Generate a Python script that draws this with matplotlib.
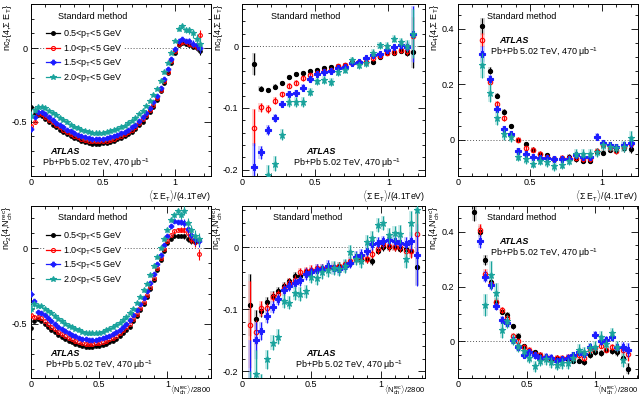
import numpy as np
import matplotlib
matplotlib.use('Agg')
import matplotlib.pyplot as plt
from matplotlib.ticker import MultipleLocator, FuncFormatter
from matplotlib.lines import Line2D
from matplotlib.patches import Rectangle

plt.rcParams['font.family'] = ['Liberation Sans', 'DejaVu Sans']
plt.rcParams['mathtext.fontset'] = 'custom'
plt.rcParams['mathtext.rm'] = 'Liberation Sans'
plt.rcParams['mathtext.it'] = 'Liberation Sans:italic'
plt.rcParams['mathtext.bf'] = 'Liberation Sans:bold'

# ---------------- data ----------------
series_labels = ['0.5<p$_\\mathrm{T}$<5 GeV', '1.0<p$_\\mathrm{T}$<5 GeV',
                 '1.5<p$_\\mathrm{T}$<5 GeV', '2.0<p$_\\mathrm{T}$<5 GeV']

# Panel 1: nc2{4, Sum ET} vs <Sum ET>/4.1TeV
p1_x = [0.000, 0.025, 0.050, 0.075, 0.100, 0.125, 0.150, 0.175, 0.200, 0.225, 0.250, 0.275,
        0.300, 0.325, 0.350, 0.375, 0.400, 0.425, 0.450, 0.475, 0.500, 0.525, 0.550, 0.575,
        0.600, 0.625, 0.650, 0.675, 0.700, 0.725, 0.750, 0.775, 0.800, 0.825, 0.850, 0.875,
        0.900, 0.925, 0.950, 0.975, 1.000, 1.025, 1.050, 1.075, 1.100, 1.125, 1.150, 1.175]
p1_black = [-0.40, -0.45, -0.455, -0.46, -0.48, -0.50, -0.52, -0.54, -0.555, -0.57, -0.585, -0.60,
            -0.61, -0.62, -0.63, -0.64, -0.645, -0.65, -0.65, -0.65, -0.648, -0.645, -0.64, -0.63,
            -0.62, -0.61, -0.60, -0.585, -0.57, -0.55, -0.525, -0.50, -0.47, -0.435, -0.40, -0.35,
            -0.295, -0.235, -0.17, -0.10, -0.03, 0.02, 0.035, 0.03, 0.02, 0.01, 0.00, -0.02]
p1_red = [-0.53, -0.50, -0.445, -0.45, -0.47, -0.49, -0.505, -0.525, -0.54, -0.555, -0.57, -0.585,
          -0.595, -0.605, -0.615, -0.625, -0.63, -0.635, -0.635, -0.635, -0.633, -0.63, -0.625, -0.615,
          -0.605, -0.595, -0.585, -0.57, -0.555, -0.535, -0.51, -0.485, -0.455, -0.42, -0.385, -0.34,
          -0.285, -0.225, -0.16, -0.09, -0.02, 0.03, 0.04, 0.04, 0.03, 0.02, 0.01, 0.09]
p1_blue = [-0.55, -0.47, -0.435, -0.435, -0.45, -0.47, -0.49, -0.51, -0.525, -0.54, -0.555, -0.565,
           -0.58, -0.59, -0.60, -0.605, -0.61, -0.615, -0.618, -0.618, -0.615, -0.61, -0.605, -0.60,
           -0.59, -0.58, -0.57, -0.555, -0.54, -0.52, -0.495, -0.47, -0.44, -0.405, -0.37, -0.325,
           -0.27, -0.21, -0.145, -0.075, -0.005, 0.05, 0.06, 0.05, 0.05, 0.03, 0.02, 0.00]
p1_teal = [-0.46, -0.42, -0.40, -0.40, -0.41, -0.425, -0.44, -0.455, -0.475, -0.49, -0.505, -0.52,
           -0.535, -0.545, -0.555, -0.565, -0.57, -0.575, -0.58, -0.58, -0.578, -0.573, -0.567, -0.56,
           -0.55, -0.54, -0.527, -0.512, -0.495, -0.475, -0.45, -0.425, -0.395, -0.36, -0.32, -0.275,
           -0.225, -0.165, -0.10, -0.03, 0.05, 0.13, 0.15, 0.12, 0.12, 0.10, 0.06, 0.03]
p1_err = [[0.01, 0.008, 0.006] + [0.004] * 37 + [0.005, 0.006, 0.008, 0.01, 0.012, 0.015, 0.02, 0.025],
          [0.015, 0.012, 0.008] + [0.005] * 37 + [0.006, 0.008, 0.01, 0.012, 0.015, 0.02, 0.025, 0.035],
          [0.02, 0.015, 0.01] + [0.006] * 37 + [0.008, 0.01, 0.012, 0.015, 0.02, 0.025, 0.03, 0.035],
          [0.03, 0.02, 0.012] + [0.008] * 37 + [0.01, 0.012, 0.015, 0.02, 0.025, 0.03, 0.035, 0.04]]

# Panel 2: nc3{4, Sum ET}
p2_x = [0.08, 0.127, 0.177, 0.227, 0.273, 0.32, 0.37, 0.418, 0.467, 0.514, 0.56, 0.61,
        0.657, 0.703, 0.753, 0.80, 0.846, 0.895, 0.94, 0.99, 1.04, 1.085, 1.13, 1.17]
p2_black = [-0.029, -0.069, -0.071, -0.066, -0.059, -0.050, -0.045, -0.044, -0.041, -0.039, -0.036, -0.034,
            -0.033, -0.031, -0.026, -0.025, -0.026, -0.025, -0.017, -0.011, -0.011, -0.008, -0.011, -0.010]
p2_red = [-0.132, -0.099, -0.102, -0.088, -0.078, -0.064, -0.059, -0.052, -0.047, -0.043, -0.041, -0.038,
          -0.033, -0.031, -0.027, -0.026, -0.026, -0.020, -0.016, -0.011, -0.010, -0.007, -0.008, 0.017]
p2_blue = [-0.196, -0.172, -0.135, -0.116, -0.094, -0.077, -0.076, -0.067, -0.053, -0.045, -0.042, -0.041,
           -0.036, -0.034, -0.028, -0.026, -0.020, -0.015, -0.013, -0.007, -0.002, 0.001, -0.001, 0.020]
p2_teal = [-0.26, -0.24, -0.208, -0.190, -0.143, -0.091, -0.091, -0.091, -0.074, -0.057, -0.055, -0.058,
           -0.042, -0.038, -0.023, -0.031, -0.028, -0.011, 0.001, 0.000, 0.012, 0.006, 0.000, 0.020]
p2_err = [[0.018, 0.004, 0.004, 0.004, 0.003, 0.003, 0.003, 0.003, 0.003, 0.003, 0.003, 0.003,
           0.003, 0.003, 0.003, 0.003, 0.003, 0.003, 0.003, 0.003, 0.003, 0.003, 0.005, 0.025],
          [0.03, 0.007, 0.006, 0.005, 0.004, 0.004, 0.004, 0.004, 0.004, 0.004, 0.004, 0.004,
           0.004, 0.004, 0.004, 0.004, 0.004, 0.004, 0.004, 0.004, 0.004, 0.004, 0.006, 0.03],
          [0.04, 0.01, 0.008, 0.006, 0.005, 0.005, 0.005, 0.005, 0.005, 0.004, 0.004, 0.004,
           0.004, 0.004, 0.004, 0.004, 0.004, 0.004, 0.004, 0.004, 0.004, 0.005, 0.007, 0.045],
          [0.03, 0.03, 0.015, 0.012, 0.009, 0.008, 0.008, 0.008, 0.007, 0.006, 0.006, 0.006,
           0.006, 0.006, 0.006, 0.006, 0.006, 0.006, 0.006, 0.006, 0.006, 0.007, 0.01, 0.04]]

# Panel 3: nc4{4, Sum ET}
p3_x = [0.17, 0.22, 0.27, 0.32, 0.37, 0.42, 0.47, 0.52, 0.57, 0.62, 0.67, 0.72,
        0.77, 0.82, 0.87, 0.92, 0.965, 1.01, 1.055, 1.10, 1.15, 1.20]
p3_black = [0.41, 0.25, 0.16, 0.10, 0.05, 0.0, -0.015, -0.035, -0.05, -0.055, -0.07, -0.065,
            -0.06, -0.07, -0.075, -0.075, -0.045, -0.046, -0.035, -0.036, -0.03, -0.033]
p3_red = [0.36, 0.21, 0.13, 0.078, 0.018, 0.0, -0.03, -0.035, -0.05, -0.06, -0.07, -0.065,
          -0.065, -0.065, -0.07, -0.07, -0.04, -0.02, -0.03, -0.039, -0.025, -0.015]
p3_blue = [0.31, 0.22, 0.11, 0.04, 0.02, -0.04, -0.05, -0.06, -0.065, -0.065, -0.07, -0.07,
           -0.07, -0.055, -0.06, -0.06, 0.012, -0.012, -0.02, -0.025, -0.02, -0.012]
p3_teal = [0.27, 0.17, 0.08, 0.02, 0.01, -0.06, -0.07, -0.085, -0.075, -0.08, -0.095, -0.09,
           -0.075, -0.05, -0.05, -0.05, -0.045, -0.02, -0.025, -0.03, -0.024, 0.006]
p3_err = [[0.03, 0.012, 0.01, 0.01, 0.008, 0.008, 0.008, 0.008, 0.008, 0.008, 0.008, 0.008,
           0.008, 0.008, 0.008, 0.008, 0.01, 0.01, 0.01, 0.01, 0.012, 0.015],
          [0.025, 0.012, 0.01, 0.01, 0.01, 0.009, 0.009, 0.009, 0.009, 0.009, 0.009, 0.009,
           0.009, 0.009, 0.009, 0.009, 0.01, 0.01, 0.01, 0.01, 0.012, 0.015],
          [0.03, 0.015, 0.012, 0.012, 0.012, 0.011, 0.011, 0.011, 0.011, 0.011, 0.011, 0.011,
           0.011, 0.011, 0.011, 0.011, 0.012, 0.012, 0.012, 0.012, 0.014, 0.018],
          [0.045, 0.035, 0.025, 0.02, 0.018, 0.016, 0.016, 0.016, 0.016, 0.016, 0.016, 0.016,
           0.016, 0.016, 0.016, 0.016, 0.016, 0.016, 0.016, 0.016, 0.02, 0.025]]

# Panel 4: nc2{4, Nch} vs <Nch_rec>/2800
p4_x = [0.000, 0.025, 0.050, 0.075, 0.100, 0.125, 0.150, 0.175, 0.200, 0.225, 0.250, 0.275,
        0.300, 0.325, 0.350, 0.375, 0.400, 0.425, 0.450, 0.475, 0.500, 0.525, 0.550, 0.575,
        0.600, 0.625, 0.650, 0.675, 0.700, 0.725, 0.750, 0.775, 0.800, 0.825, 0.850, 0.875,
        0.900, 0.925, 0.950, 0.975, 1.000, 1.025, 1.050, 1.075, 1.100, 1.125, 1.150, 1.175,
        1.200, 1.235]
p4_black = [-0.53, -0.48, -0.47, -0.48, -0.50, -0.52, -0.54, -0.555, -0.575, -0.59, -0.605, -0.615,
            -0.625, -0.635, -0.645, -0.65, -0.655, -0.655, -0.655, -0.652, -0.65, -0.645, -0.635, -0.625,
            -0.615, -0.60, -0.585, -0.565, -0.545, -0.52, -0.485, -0.45, -0.41, -0.37, -0.325, -0.27,
            -0.21, -0.145, -0.08, -0.02, 0.035, 0.065, 0.08, 0.085, 0.085, 0.08, 0.065, 0.05,
            0.045, 0.055]
p4_red = [-0.44, -0.455, -0.455, -0.465, -0.48, -0.50, -0.52, -0.535, -0.555, -0.57, -0.585, -0.595,
          -0.605, -0.615, -0.625, -0.63, -0.635, -0.635, -0.635, -0.632, -0.63, -0.625, -0.615, -0.605,
          -0.595, -0.58, -0.565, -0.545, -0.525, -0.50, -0.47, -0.435, -0.395, -0.355, -0.31, -0.255,
          -0.195, -0.13, -0.065, -0.005, 0.05, 0.09, 0.115, 0.125, 0.125, 0.12, 0.10, 0.06,
          0.04, -0.04]
p4_blue = [-0.30, -0.35, -0.42, -0.43, -0.445, -0.465, -0.48, -0.50, -0.52, -0.535, -0.55, -0.565,
           -0.575, -0.585, -0.595, -0.60, -0.605, -0.61, -0.61, -0.607, -0.603, -0.597, -0.59, -0.58,
           -0.568, -0.555, -0.54, -0.52, -0.50, -0.475, -0.445, -0.41, -0.37, -0.33, -0.285, -0.23,
           -0.17, -0.105, -0.045, 0.02, 0.08, 0.15, 0.18, 0.175, 0.175, 0.17, 0.13, 0.09,
           0.06, 0.05]
p4_teal = [-0.40, -0.37, -0.38, -0.385, -0.40, -0.415, -0.43, -0.45, -0.47, -0.485, -0.50, -0.515,
           -0.525, -0.535, -0.545, -0.555, -0.56, -0.565, -0.565, -0.565, -0.56, -0.555, -0.545, -0.535,
           -0.525, -0.51, -0.495, -0.475, -0.455, -0.43, -0.40, -0.365, -0.325, -0.28, -0.235, -0.18,
           -0.12, -0.06, 0.0, 0.06, 0.12, 0.19, 0.22, 0.25, 0.22, 0.25, 0.17, 0.12,
           0.08, 0.06]
p4_err = [[0.03, 0.01, 0.006] + [0.004] * 37 + [0.005, 0.006, 0.008, 0.01, 0.012, 0.015, 0.02, 0.02, 0.025, 0.03],
          [0.02, 0.01, 0.008] + [0.005] * 37 + [0.006, 0.008, 0.01, 0.012, 0.015, 0.02, 0.025, 0.025, 0.03, 0.035],
          [0.02, 0.015, 0.01] + [0.006] * 37 + [0.008, 0.01, 0.012, 0.015, 0.02, 0.025, 0.03, 0.03, 0.035, 0.04],
          [0.03, 0.02, 0.012] + [0.008] * 37 + [0.01, 0.012, 0.015, 0.02, 0.025, 0.03, 0.035, 0.035, 0.04, 0.04]]

# Panel 5: nc3{4, Nch}
p5_x = [0.06, 0.10, 0.14, 0.18, 0.22, 0.26, 0.30, 0.34, 0.38, 0.42, 0.46, 0.50, 0.54, 0.58, 0.62, 0.66,
        0.70, 0.74, 0.78, 0.82, 0.86, 0.90, 0.94, 0.98, 1.02, 1.06, 1.10, 1.14, 1.18, 1.22, 1.26]
p5_black = [-0.093, -0.116, -0.102, -0.088, -0.078, -0.070, -0.062, -0.055, -0.046, -0.046, -0.040, -0.038,
            -0.036, -0.035, -0.033, -0.032, -0.030, -0.028, -0.025, -0.018, -0.020, -0.019, -0.022, -0.005,
            0.001, 0.000, 0.001, -0.002, -0.002, -0.005, -0.031]
p5_red = [-0.125, -0.137, -0.098, -0.098, -0.080, -0.076, -0.065, -0.057, -0.052, -0.040, -0.038, -0.036,
          -0.034, -0.033, -0.032, -0.031, -0.030, -0.027, -0.022, -0.018, -0.015, -0.018, -0.010, -0.003,
          0.005, 0.002, 0.001, 0.000, -0.005, -0.005, 0.022]
p5_blue = [-0.25, -0.150, -0.135, -0.110, -0.096, -0.084, -0.069, -0.062, -0.058, -0.053, -0.043, -0.040,
           -0.036, -0.035, -0.030, -0.034, -0.035, -0.030, -0.025, -0.015, -0.012, -0.005, 0.005, 0.008,
           0.010, 0.012, 0.010, 0.008, 0.005, 0.010, -0.012]
p5_teal = [-0.26, -0.205, -0.235, -0.181, -0.154, -0.144, -0.087, -0.089, -0.074, -0.075, -0.071, -0.047,
           -0.049, -0.040, -0.036, -0.033, -0.035, -0.030, -0.007, -0.018, -0.022, 0.009, 0.015, 0.036,
           0.040, 0.020, 0.023, 0.022, -0.018, 0.039, 0.060]
p5_err = [[0.05, 0.015, 0.01, 0.008, 0.007, 0.006, 0.006, 0.006, 0.006, 0.006, 0.006, 0.006, 0.006, 0.006,
           0.006, 0.006, 0.006, 0.006, 0.006, 0.006, 0.006, 0.006, 0.006, 0.006, 0.006, 0.006, 0.006, 0.006,
           0.008, 0.01, 0.03],
          [0.07, 0.02, 0.012, 0.009, 0.008, 0.007, 0.007, 0.007, 0.007, 0.007, 0.007, 0.007, 0.007, 0.007,
           0.007, 0.007, 0.007, 0.007, 0.007, 0.007, 0.007, 0.007, 0.007, 0.007, 0.007, 0.007, 0.007, 0.008,
           0.01, 0.012, 0.035],
          [0.1, 0.03, 0.015, 0.012, 0.01, 0.009, 0.009, 0.009, 0.009, 0.009, 0.009, 0.009, 0.009, 0.009,
           0.009, 0.009, 0.009, 0.009, 0.009, 0.009, 0.009, 0.009, 0.009, 0.009, 0.009, 0.009, 0.01, 0.01,
           0.012, 0.015, 0.05],
          [0.06, 0.04, 0.03, 0.015, 0.012, 0.012, 0.011, 0.011, 0.011, 0.011, 0.011, 0.011, 0.011, 0.011,
           0.011, 0.011, 0.011, 0.011, 0.011, 0.011, 0.011, 0.011, 0.011, 0.011, 0.011, 0.012, 0.012, 0.015,
           0.015, 0.02, 0.04]]

# Panel 6: nc4{4, Nch}
p6_x = [0.12, 0.16, 0.20, 0.24, 0.28, 0.32, 0.36, 0.40, 0.44, 0.48, 0.52, 0.56, 0.60, 0.64, 0.68,
        0.72, 0.76, 0.80, 0.84, 0.88, 0.92, 0.96, 1.00, 1.04, 1.08, 1.12, 1.16, 1.20, 1.24]
p6_black = [0.47, 0.40, 0.297, 0.218, 0.145, 0.109, 0.097, 0.055, 0.021, -0.018, -0.036, -0.04, -0.05,
            -0.06, -0.065, -0.06, -0.065, -0.065, -0.07, -0.07, -0.076, -0.05, -0.04, -0.042, -0.03,
            -0.035, -0.04, -0.06, -0.10]
p6_red = [np.nan, 0.406, 0.246, 0.21, 0.145, 0.115, 0.085, 0.02, 0.0, -0.02, -0.03, -0.045, -0.05,
          -0.055, -0.06, -0.06, -0.06, -0.055, -0.06, -0.05, -0.06, -0.03, -0.025, -0.015, -0.03,
          -0.02, -0.025, -0.03, -0.045]
p6_blue = [np.nan, 0.364, 0.236, 0.206, 0.13, 0.079, 0.067, 0.006, -0.02, -0.048, -0.04, -0.05, -0.06,
           -0.055, -0.06, -0.07, -0.065, -0.06, -0.05, -0.04, -0.045, -0.02, 0.024, 0.0, 0.006,
           0.015, -0.02, -0.02, -0.03]
p6_teal = [np.nan, np.nan, 0.133, 0.242, 0.176, 0.042, 0.073, 0.006, -0.018, -0.036, -0.06, -0.091, -0.07,
           -0.065, -0.075, -0.085, -0.08, -0.079, -0.06, -0.03, -0.04, -0.024, -0.02, 0.018, -0.01,
           0.03, -0.02, -0.067, np.nan]
p6_err = [[0.03, 0.02, 0.018, 0.015, 0.012, 0.01, 0.01, 0.01, 0.01, 0.01, 0.01, 0.01, 0.01, 0.01, 0.01,
           0.01, 0.01, 0.01, 0.01, 0.01, 0.01, 0.01, 0.01, 0.01, 0.01, 0.012, 0.012, 0.015, 0.02],
          [0.03, 0.02, 0.018, 0.015, 0.012, 0.01, 0.01, 0.01, 0.01, 0.01, 0.01, 0.01, 0.01, 0.01, 0.01,
           0.01, 0.01, 0.01, 0.01, 0.01, 0.01, 0.01, 0.01, 0.01, 0.01, 0.012, 0.012, 0.015, 0.025],
          [0.03, 0.025, 0.02, 0.018, 0.015, 0.013, 0.013, 0.013, 0.013, 0.013, 0.013, 0.013, 0.013, 0.013, 0.013,
           0.013, 0.013, 0.013, 0.013, 0.013, 0.013, 0.013, 0.013, 0.013, 0.013, 0.015, 0.015, 0.018, 0.025],
          [0.05, 0.05, 0.04, 0.05, 0.035, 0.03, 0.025, 0.02, 0.02, 0.02, 0.02, 0.02, 0.02, 0.02, 0.02,
           0.02, 0.02, 0.02, 0.02, 0.02, 0.02, 0.02, 0.02, 0.02, 0.02, 0.02, 0.02, 0.025, 0.03]]

# ---------------- styling ----------------
colors = ['#000000', '#ff0000', '#1c1cff', '#1aa39c']
box_colors = ['#bbbbbb', '#ffb3b3', '#b3b3ff', '#a8e0dc']
markers = ['o', 'o', 'P', '*']
mfcs = ['#000000', 'none', '#1c1cff', '#1aa39c']
msizes = [3.0, 3.2, 3.8, 4.8]

W, H = 642, 397
fig = plt.figure(figsize=(W / 100, H / 100), dpi=100)
fs = 6.5


def ax_at(l, r, t, b):
    return fig.add_axes([l / W, 1 - b / H, (r - l) / W, (b - t) / H])


def fmt(v, pos):
    return '%g' % round(v, 6)


def setup(ax, xlim, ylim, ymaj, ymin):
    ax.set_xlim(*xlim)
    ax.set_ylim(*ylim)
    ax.xaxis.set_major_locator(MultipleLocator(0.5))
    ax.xaxis.set_minor_locator(MultipleLocator(0.1))
    ax.yaxis.set_major_locator(MultipleLocator(ymaj))
    ax.yaxis.set_minor_locator(MultipleLocator(ymin))
    ax.xaxis.set_major_formatter(FuncFormatter(fmt))
    ax.yaxis.set_major_formatter(FuncFormatter(fmt))
    ax.tick_params(which='both', direction='in', top=True, right=True, labelsize=fs, width=0.6)
    ax.tick_params(axis='x', pad=1.5)
    ax.tick_params(axis='y', pad=2.5)
    ax.tick_params(which='major', length=5)
    ax.tick_params(which='minor', length=2.5)
    for s in ax.spines.values():
        s.set_linewidth(0.7)
    ax.axhline(0, color='#555555', ls=(0, (1, 2)), lw=0.7, zorder=0.5)


def draw(ax, x, ys, errs, boxes=True, bw=0.03, scale=1.0):
    for i, (y, e) in enumerate(zip(ys, errs)):
        if boxes:
            for xi, yi, ei in zip(x, y, e):
                if np.isfinite(yi):
                    ax.add_patch(Rectangle((xi - bw / 2, yi - ei), bw, 2 * ei, facecolor=box_colors[i],
                                           edgecolor='none', alpha=0.6, zorder=1 + i * 0.1))
        ax.errorbar(x, y, yerr=e, fmt=markers[i], color=colors[i], mfc=mfcs[i], mec=colors[i],
                    ms=msizes[i] * scale, mew=0.8, elinewidth=0.8, capsize=0, zorder=2 + i)


def texts(ax, sm, atlas, pbpb):
    ax.text(sm[0], sm[1], 'Standard method', transform=ax.transAxes, fontsize=fs, ha='left', va='center',
            zorder=10)
    ax.text(atlas[0], atlas[1], 'ATLAS', transform=ax.transAxes, fontsize=fs, ha='left', va='center',
            fontweight='bold', fontstyle='italic', zorder=10)
    ax.text(pbpb[0], pbpb[1], 'Pb+Pb 5.02 TeV, 470 \u03bcb$^{-1}$', transform=ax.transAxes, fontsize=fs,
            ha='left', va='center', zorder=10)


def labels(ax, ylab, xlab, ylx, xly, xfs):
    ax.text(ylx, 1.0, ylab, transform=ax.transAxes, rotation=90, fontsize=fs, ha='center', va='top')
    ax.text(1.0, xly, xlab, transform=ax.transAxes, fontsize=xfs, ha='right', va='center')


def legend(ax, anchor):
    handles = [Line2D([0], [0], color=colors[i], marker=markers[i], mfc=mfcs[i], mec=colors[i],
                      ms=msizes[i] * 0.9, mew=0.8, lw=0.9) for i in range(4)]
    leg = ax.legend(handles, series_labels, loc='upper left', bbox_to_anchor=anchor, fontsize=fs,
                    frameon=True, framealpha=1.0, facecolor='white', edgecolor='none', handlelength=1.5,
                    handletextpad=0.3, labelspacing=0.28, borderpad=0.2, borderaxespad=0, fancybox=False)
    leg.set_zorder(8)


et_lab = r'$\langle\Sigma\ \mathrm{E}_\mathrm{T}\rangle$/(4.1TeV)'
n_lab = r'$\langle \mathrm{N}_\mathrm{ch}^\mathrm{rec}\rangle$/2800'

# Top row
ax1 = ax_at(31, 211, 4, 176)
setup(ax1, (0, 1.25), (-0.87, 0.3), 0.5, 0.1)
draw(ax1, p1_x, [p1_black, p1_red, p1_blue, p1_teal], p1_err, boxes=False, scale=0.85)
legend(ax1, (0.075, 0.87))
texts(ax1, (0.15, 0.93), (0.106, 0.14), (0.06, 0.076))
labels(ax1, r'nc$_2${4,Σ E$_\mathrm{T}$}', et_lab, -0.13, -0.118, 6.2)

ax2 = ax_at(242, 425, 4, 176)
setup(ax2, (0, 1.25), (-0.21, 0.068), 0.1, 0.02)
draw(ax2, p2_x, [p2_black, p2_red, p2_blue, p2_teal], p2_err)
texts(ax2, (0.16, 0.93), (0.353, 0.14), (0.28, 0.076))
labels(ax2, r'nc$_3${4,Σ E$_\mathrm{T}$}', et_lab, -0.13, -0.118, 6.2)

ax3 = ax_at(458, 638, 4, 176)
setup(ax3, (0, 1.25), (-0.13, 0.49), 0.2, 0.05)
draw(ax3, p3_x, [p3_black, p3_red, p3_blue, p3_teal], p3_err)
texts(ax3, (0.16, 0.93), (0.23, 0.79), (0.178, 0.72))
labels(ax3, r'nc$_4${4,Σ E$_\mathrm{T}$}', et_lab, -0.13, -0.118, 6.2)

# Bottom row
ax4 = ax_at(31, 211, 206, 378)
setup(ax4, (0, 1.32), (-0.862, 0.282), 0.5, 0.1)
draw(ax4, p4_x, [p4_black, p4_red, p4_blue, p4_teal], p4_err, boxes=False, scale=0.85)
legend(ax4, (0.075, 0.87))
texts(ax4, (0.15, 0.936), (0.106, 0.145), (0.078, 0.074))
labels(ax4, r'nc$_2${4,N$_\mathrm{ch}^\mathrm{rec}$}', n_lab, -0.13, -0.07, 5.5)

ax5 = ax_at(242, 425, 206, 378)
setup(ax5, (0, 1.32), (-0.211, 0.067), 0.1, 0.02)
draw(ax5, p5_x, [p5_black, p5_red, p5_blue, p5_teal], p5_err)
texts(ax5, (0.168, 0.936), (0.353, 0.145), (0.29, 0.074))
labels(ax5, r'nc$_3${4,N$_\mathrm{ch}^\mathrm{rec}$}', n_lab, -0.13, -0.07, 5.5)

ax6 = ax_at(458, 638, 206, 378)
setup(ax6, (0, 1.31), (-0.133, 0.493), 0.2, 0.05)
draw(ax6, p6_x, [p6_black, p6_red, p6_blue, p6_teal], p6_err)
texts(ax6, (0.16, 0.936), (0.23, 0.795), (0.178, 0.727))
labels(ax6, r'nc$_4${4,N$_\mathrm{ch}^\mathrm{rec}$}', n_lab, -0.13, -0.07, 5.5)

fig.savefig('out.png', dpi=100)
